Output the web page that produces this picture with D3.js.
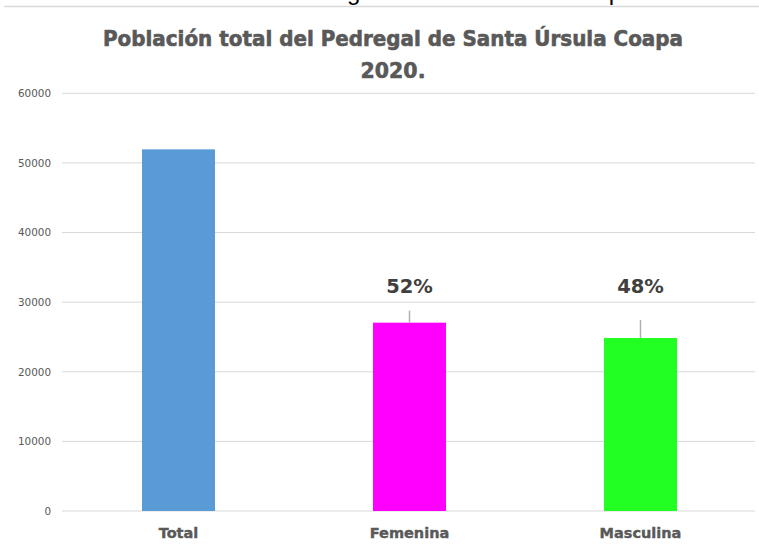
<!DOCTYPE html>
<html>
<head>
<meta charset="utf-8">
<script src="https://cdn.jsdelivr.net/npm/d3@7"></script>
<style>
  body { margin: 0; background: #fff; }
  svg { display: block; }
</style>
</head>
<body>
<svg id="chart" width="759" height="548"></svg>
<script>
// data
const categories = ["Total", "Femenina", "Masculina"];
const values = [51950, 27050, 24850];
const errorTops = [null, 28770, 27440];
const percentLabels = [null, "52%", "48%"];
const barColors = ["#5b9bd5", "#ff00ff", "#22ff22"];
const yTicks = [0, 10000, 20000, 30000, 40000, 50000, 60000];
const titleLines = ["Población total del Pedregal de Santa Úrsula Coapa", "2020."];
const captionAbove = "Gráfica 1. Población total del Pedregal de Santa Úrsula Coapa";

const svg = d3.select("#chart"),
  width = +svg.attr("width"),
  height = +svg.attr("height");

const plotLeft = 62, plotRight = 755, plotTop = 93.3, plotBottom = 511;

// scales
const x = d3.scaleBand()
  .domain(categories)
  .range([plotLeft + 1, plotRight + 1])
  .paddingInner(0.684)
  .paddingOuter(0.342);

const y = d3.scaleLinear()
  .domain([0, 60000])
  .range([plotBottom, plotTop]);

// cut-off caption from the page above (only descenders show, as in the scan)
const cap = svg.append("text")
  .attr("x", 0)
  .attr("y", -0.5)
  .attr("font-family", "Liberation Sans, Arial, sans-serif")
  .attr("font-size", 22)
  .attr("fill", "#000")
  .text(captionAbove);
const gIdx = captionAbove.indexOf("Pedregal") + 5;
const pIdx = captionAbove.lastIndexOf("p");
const gx = cap.node().getStartPositionOfChar(gIdx).x;
const px = cap.node().getStartPositionOfChar(pIdx).x;
cap.attr("font-size", 22 * (262 / (px - gx)));
cap.attr("x", 347 - cap.node().getStartPositionOfChar(gIdx).x);

// separator line under the caption
svg.append("line")
  .attr("x1", 4).attr("x2", width)
  .attr("y1", 6.5).attr("y2", 6.5)
  .attr("stroke", "#d9d9d9")
  .attr("stroke-width", 1.5);

// title
const titleBase = [45.7, 77.5];
titleLines.forEach(function (t, i) {
  const el = svg.append("text")
    .attr("x", 393)
    .attr("y", titleBase[i])
    .attr("text-anchor", "middle")
    .attr("font-family", "DejaVu Sans, sans-serif")
    .attr("font-weight", "bold")
    .attr("font-size", 20.5)
    .attr("fill", "#595959")
    .attr("stroke", "#595959")
    .attr("stroke-width", 0.6)
    .text(t);
  if (i === 0) el.attr("textLength", 580).attr("lengthAdjust", "spacingAndGlyphs");
});

// gridlines
svg.append("g")
  .selectAll("line")
  .data(yTicks)
  .enter()
  .append("line")
  .attr("x1", plotLeft)
  .attr("x2", plotRight)
  .attr("y1", d => y(d))
  .attr("y2", d => y(d))
  .attr("stroke", "#d9d9d9")
  .attr("stroke-width", 1);

// y axis labels
const yAxis = svg.append("g")
  .attr("transform", "translate(51,0)")
  .call(d3.axisLeft(y).tickValues(yTicks).tickSize(0).tickPadding(0).tickFormat(d3.format("d")));
yAxis.select(".domain").remove();
yAxis.selectAll("text")
  .attr("font-family", "DejaVu Sans, sans-serif")
  .attr("font-size", 10.4)
  .attr("fill", "#595959");

// bars
svg.append("g")
  .selectAll("rect")
  .data(categories)
  .enter()
  .append("rect")
  .attr("x", d => x(d))
  .attr("width", x.bandwidth())
  .attr("y", (d, i) => y(values[i]))
  .attr("height", (d, i) => y(0) - y(values[i]))
  .attr("fill", (d, i) => barColors[i]);

// error bars (upper only)
svg.append("g")
  .selectAll("line")
  .data(categories.filter((d, i) => errorTops[i] !== null))
  .enter()
  .append("line")
  .attr("x1", d => x(d) + x.bandwidth() / 2)
  .attr("x2", d => x(d) + x.bandwidth() / 2)
  .attr("y1", d => y(values[categories.indexOf(d)]))
  .attr("y2", d => y(errorTops[categories.indexOf(d)]))
  .attr("stroke", "#b0b0b0")
  .attr("stroke-width", 1.5);

// percent labels
svg.append("g")
  .selectAll("text")
  .data(categories.filter((d, i) => percentLabels[i] !== null))
  .enter()
  .append("text")
  .attr("x", d => x(d) + x.bandwidth() / 2)
  .attr("y", 293)
  .attr("text-anchor", "middle")
  .attr("font-family", "DejaVu Sans, sans-serif")
  .attr("font-weight", "bold")
  .attr("font-size", 19.5)
  .attr("fill", "#404040")
  .text(d => percentLabels[categories.indexOf(d)]);

// x axis labels
const xAxis = svg.append("g")
  .attr("transform", "translate(0," + plotBottom + ")")
  .call(d3.axisBottom(x).tickSize(0).tickPadding(0));
xAxis.select(".domain").remove();
xAxis.selectAll("text")
  .attr("dy", 0)
  .attr("y", 26.5)
  .attr("font-family", "DejaVu Sans, sans-serif")
  .attr("font-weight", "bold")
  .attr("font-size", 14.5)
  .attr("fill", "#595959")
  .attr("stroke", "#595959")
  .attr("stroke-width", 0.4);
</script>
</body>
</html>
